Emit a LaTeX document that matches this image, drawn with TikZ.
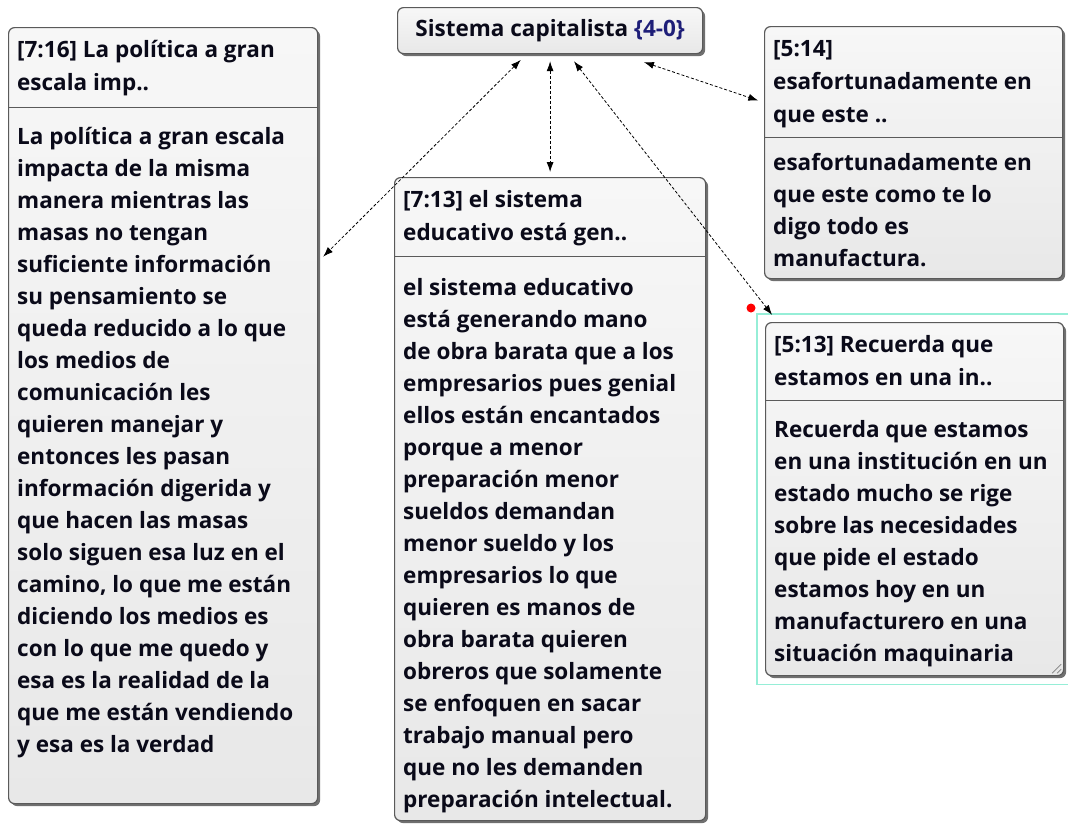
\documentclass[tikz,border=0pt]{standalone}
\usepackage{fontspec}
\setmainfont{Open Sans}
\usetikzlibrary{positioning,shadows,arrows.meta}

\begin{document}
\begin{tikzpicture}[x=1pt, y=-1pt,
    notebox/.style={rectangle, rounded corners=6pt, draw=boxline, line width=1.2pt, top color=notetop, bottom color=notebot, drop shadow={shadow xshift=2.5pt, shadow yshift=-2.5pt, fill=black!75, opacity=0.75}, inner sep=0pt, anchor=north west},
    notehead/.style={anchor=north west, inner sep=0pt, align=left, text=notetext, font=\fontsize{22.5}{33}\selectfont\bfseries},
    notebody/.style={notehead, font=\fontsize{22.5}{32}\selectfont\bfseries},
    divider/.style={draw=boxline, line width=1.2pt},
    link/.style={densely dashed, line width=0.8pt, {Latex[length=10pt,width=7pt]}-{Latex[length=10pt,width=7pt]}}]
    \definecolor{boxline}{RGB}{90,90,90}
    \definecolor{notetop}{RGB}{247,247,247}
    \definecolor{notebot}{RGB}{232,232,232}
    \definecolor{notetext}{RGB}{10,10,25}
    \definecolor{bracecol}{RGB}{30,30,120}
    \definecolor{selcol}{RGB}{150,238,215}
    \useasboundingbox (0,0) rectangle (1068,823);

    \node[notebox, minimum width=305pt, minimum height=46pt] (sys) at (397,7) {};
    \node[notehead, anchor=center] (syst) at (sys.center) {Sistema capitalista \textcolor{bracecol}{\{4-0\}}};

    \node[notebox, minimum width=309pt, minimum height=776pt] (n716) at (8,27) {};
    \node[notehead, below right=7pt and 9pt of n716.north west] (n716h) {\strut[7:16] La política a gran\\escala imp..\strut};
    \path (n716h.south -| n716.west) ++(0,7) coordinate (d716);
    \draw[divider] (d716) -- (d716 -| n716.east);
    \node[notebody, below right=14pt and 9pt of d716] (n716b) {\strut La política a gran escala\\impacta de la misma\\manera mientras las\\masas no tengan\\suficiente información\\su pensamiento se\\queda reducido a lo que\\los medios de\\comunicación les\\quieren manejar y\\entonces les pasan\\información digerida y\\que hacen las masas\\solo siguen esa luz en el\\camino, lo que me están\\diciendo los medios es\\con lo que me quedo y\\esa es la realidad de la\\que me están vendiendo\\y esa es la verdad};

    \node[notebox, minimum width=311pt, minimum height=643pt] (n713) at (394,177) {};
    \node[notehead, below right=7pt and 9pt of n713.north west] (n713h) {\strut[7:13] el sistema\\educativo está gen..\strut};
    \path (n713h.south -| n713.west) ++(0,6) coordinate (d713);
    \draw[divider] (d713) -- (d713 -| n713.east);
    \node[notebody, below right=16pt and 9pt of d713] (n713b) {\strut el sistema educativo\\está generando mano\\de obra barata que a los\\empresarios pues genial\\ellos están encantados\\porque a menor\\preparación menor\\sueldos demandan\\menor sueldo y los\\empresarios lo que\\quieren es manos de\\obra barata quieren\\obreros que solamente\\se enfoquen en sacar\\trabajo manual pero\\que no les demanden\\preparación intelectual.};

    \node[notebox, minimum width=298pt, minimum height=252pt] (n514) at (764,26) {};
    \node[notehead, below right=7pt and 9pt of n514.north west] (n514h) {\strut[5:14]\\esafortunadamente en\\que este ..\strut};
    \path (n514h.south -| n514.west) ++(0,5) coordinate (d514);
    \draw[divider] (d514) -- (d514 -| n514.east);
    \node[notebody, below right=10pt and 9pt of d514] (n514b) {\strut esafortunadamente en\\que este como te lo\\digo todo es\\manufactura.};

    \node[notebox, minimum width=298pt, minimum height=353pt] (n513) at (765,322) {};
    \node[notehead, below right=7pt and 9pt of n513.north west] (n513h) {\strut[5:13] Recuerda que\\estamos en una in..\strut};
    \path (n513h.south -| n513.west) ++(0,5) coordinate (d513);
    \draw[divider] (d513) -- (d513 -| n513.east);
    \node[notebody, below right=14pt and 9pt of d513] (n513b) {\strut Recuerda que estamos\\en una institución en un\\estado mucho se rige\\sobre las necesidades\\que pide el estado\\estamos hoy en un\\manufacturero en una\\situación maquinaria};
    \draw[gray, line width=0.8pt] ([shift={(-3,-12)}]n513.south east) -- ([shift={(-12,-3)}]n513.south east);
    \draw[gray, line width=0.8pt] ([shift={(-3,-7)}]n513.south east) -- ([shift={(-7,-3)}]n513.south east);

    \draw[selcol, line width=1.2pt] ([shift={(-8,-8)}]n513.north west) rectangle ([shift={(8,8)}]n513.south east);
    \fill[red] ([shift={(-14,-14)}]n513.north west) circle (4.5pt);

    \draw[link, shorten <=8pt, shorten >=7pt] (sys) -- (n716);
    \draw[link, shorten <=7pt, shorten >=5pt] (sys) -- (n713);
    \draw[link, shorten <=9pt, shorten >=9pt] (sys) -- (n513);
    \draw[link, shorten <=25pt, shorten >=6pt] (sys) -- (n514);
\end{tikzpicture}
\end{document}
